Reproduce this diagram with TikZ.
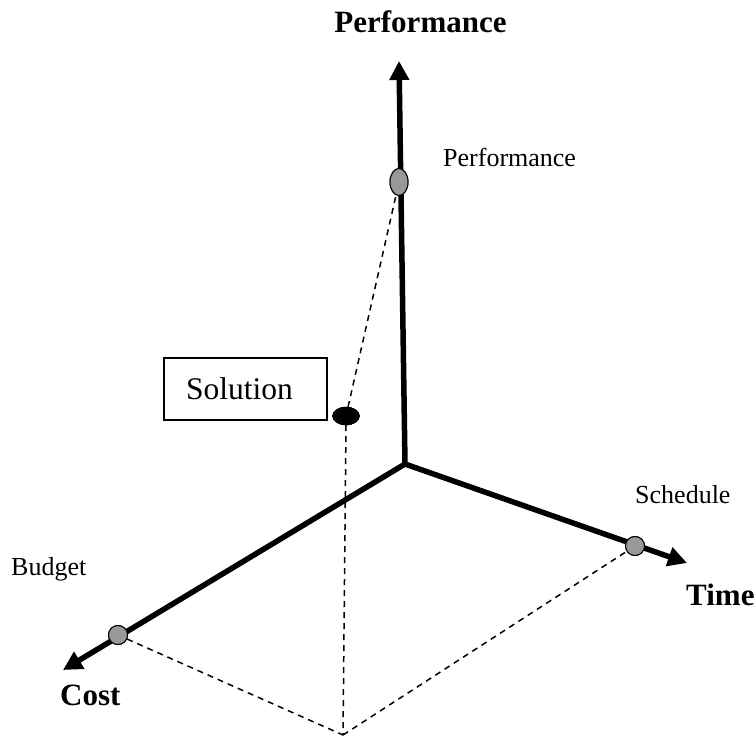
\documentclass[tikz,border=0pt]{standalone}
\usepackage{fontspec}
\setmainfont{Liberation Serif}
\usetikzlibrary{arrows.meta,shapes.geometric}
\begin{document}
\begin{tikzpicture}[x=1pt,y=-1pt,
  axisline/.style={line width=5.5pt,-{Triangle[length=19pt,width=19pt]}},
  guide/.style={line width=1.5pt,dash pattern=on 6pt off 5pt},
  marker/.style={draw=black,line width=1pt,fill=gray!80,inner sep=0pt,minimum size=19pt,circle},
  vmarker/.style={draw=black,line width=1pt,fill=gray!80,inner sep=0pt,ellipse,minimum width=18pt,minimum height=27pt},
  soldot/.style={draw=black,fill=black,inner sep=0pt,ellipse,minimum width=27pt,minimum height=18pt},
  bigfont/.style={font=\fontsize{31}{37}\selectfont\bfseries,inner sep=0pt},
  smallfont/.style={font=\fontsize{26}{31}\selectfont,inner sep=0pt},
  solbox/.style={draw=black,line width=1.4pt,minimum width=163pt,minimum height=62pt,inner sep=0pt},
  soltext/.style={font=\fontsize{31.5}{37}\selectfont,inner sep=0pt}
]
\useasboundingbox (0,0) rectangle (755,738);
% coordinates
\coordinate (O) at (405,464);
\coordinate (ptip) at (399,61);
\coordinate (ttip) at (687,563);
\coordinate (ctip) at (63,670);
\coordinate (B) at (343,735);
% axes
\draw[axisline] (O) -- (ptip);
\draw[axisline] (O) -- (ttip);
\draw[axisline] (O) -- (ctip);
% markers (placed for naming)
\node[vmarker] (pm) at (399,182) {};
\node[marker] (sm) at (635,546) {};
\node[marker] (bm) at (118,635) {};
\node[soldot] (sd) at (346,416) {};
% guides
\draw[guide] (sd) -- (pm);
\draw[guide] (sd.south) -- (B);
\draw[guide] (bm) -- (B);
\draw[guide] (B) -- (sm);
% markers on top of guides
\node[vmarker] at (pm) {};
\node[marker] at (sm) {};
\node[marker] at (bm) {};
\node[soldot] at (sd) {};
% box
\node[solbox] (sol) at (245.5,389) {};
\node[soltext,anchor=base] (soltxt) at (239.5,399) {Solution};
% labels
\node[bigfont,anchor=base] (lperf) at (420.5,33) {Performance};
\node[bigfont,anchor=base west] (ltime) at (686,605) {Time};
\node[bigfont,anchor=base west] (lcost) at (60,705) {Cost};
\node[smallfont,anchor=base west] (lsperf) at (443,167) {Performance};
\node[smallfont,anchor=base west] (lsched) at (635,503) {Schedule};
\node[smallfont,anchor=base west] (lbud) at (11,575) {Budget};
\end{tikzpicture}
\end{document}
